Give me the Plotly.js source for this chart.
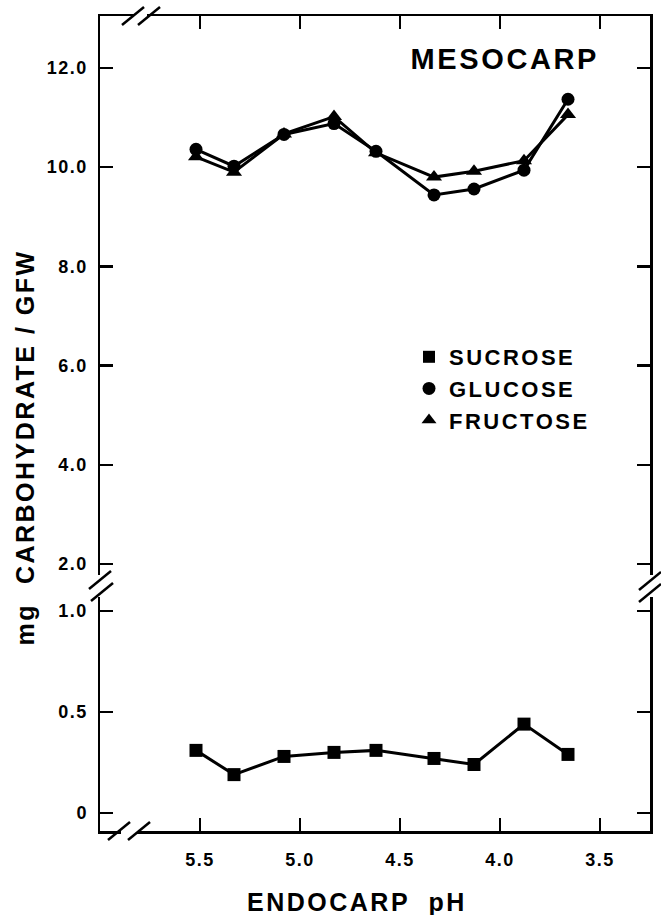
<!DOCTYPE html>
<html>
<head>
<meta charset="utf-8">
<script src="https://cdn.plot.ly/plotly-3.0.1.min.js"></script>
<style>
  html, body { margin: 0; padding: 0; background: #ffffff; }
  #chart { width: 661px; height: 915px; }
  .legendtext { letter-spacing: 2.5px; }
  .xtick text, .ytick text, .y2tick text { letter-spacing: 1.5px; }
</style>
</head>
<body>
<div id="chart"></div>
<script>
// ---- data ----
const endocarpPH = [5.52, 5.33, 5.08, 4.83, 4.62, 4.33, 4.13, 3.88, 3.66];
const sucrose    = [0.31, 0.19, 0.28, 0.30, 0.31, 0.27, 0.24, 0.44, 0.29];
const glucose    = [10.36, 10.02, 10.66, 10.88, 10.32, 9.44, 9.56, 9.94, 11.37];
const fructose   = [10.21, 9.90, 10.67, 11.02, 10.29, 9.80, 9.92, 10.13, 11.06];

const seriesNames = ['SUCROSE', 'GLUCOSE', 'FRUCTOSE'];
const xTickVals = [5.5, 5.0, 4.5, 4.0, 3.5];
const xTickText = ['5.5', '5.0', '4.5', '4.0', '3.5'];
const yUpperTickVals = [2, 4, 6, 8, 10, 12];
const yUpperTickText = ['2.0', '4.0', '6.0', '8.0', '10.0', '12.0'];
const yLowerTickVals = [0, 0.5, 1.0];
const yLowerTickText = ['0', '0.5', '1.0'];

// ---- styling ----
const FONT = 'Liberation Sans, Arial, Helvetica, sans-serif';
const tickFont = {family: FONT, size: 18, color: '#000', weight: 'bold'};
const lineStyle = {color: '#000', width: 3};

const traces = [
  {x: endocarpPH, y: sucrose, xaxis: 'x', yaxis: 'y', mode: 'lines+markers',
   line: lineStyle, marker: {symbol: 'square', size: 13, color: '#000'},
   showlegend: false, name: seriesNames[0]},
  {x: endocarpPH, y: glucose, xaxis: 'x2', yaxis: 'y2', mode: 'lines+markers',
   line: lineStyle, marker: {symbol: 'circle', size: 13, color: '#000'},
   showlegend: false, name: seriesNames[1]},
  {x: endocarpPH, y: fructose, xaxis: 'x2', yaxis: 'y2', mode: 'lines+markers',
   line: lineStyle, marker: {symbol: 'triangle-up', size: 14, color: '#000'},
   showlegend: false, name: seriesNames[2]},
  // legend-only entries (marker symbols without line)
  {x: [null], y: [null], xaxis: 'x2', yaxis: 'y2', mode: 'markers', name: seriesNames[0],
   marker: {symbol: 'square', size: 12, color: '#000'}},
  {x: [null], y: [null], xaxis: 'x2', yaxis: 'y2', mode: 'markers', name: seriesNames[1],
   marker: {symbol: 'circle', size: 13, color: '#000'}},
  {x: [null], y: [null], xaxis: 'x2', yaxis: 'y2', mode: 'markers', name: seriesNames[2],
   marker: {symbol: 'triangle-up', size: 13, color: '#000'}}
];

const axisCommon = {
  showline: true, linecolor: '#000', linewidth: 2.5,
  ticks: 'inside', ticklen: 13, tickwidth: 2.5, tickcolor: '#000',
  showgrid: false, zeroline: false, tickfont: tickFont
};

// pixel helpers for decorative break marks (paper coordinates)
const L = 100, R = 650, T = 16, B = 831;
const px = v => (v - L) / (R - L);
const py = v => (B - v) / (B - T);

function slash(cx, cy) {
  return {type: 'line', xref: 'paper', yref: 'paper', layer: 'above',
          x0: px(cx - 11), y0: py(cy + 9), x1: px(cx + 11), y1: py(cy - 9),
          line: {color: '#000', width: 2.5}};
}
function gap(x0, y0, x1, y1) {
  return {type: 'line', xref: 'paper', yref: 'paper', layer: 'above',
          x0: px(x0), y0: py(y0), x1: px(x1), y1: py(y1),
          line: {color: '#fff', width: 6}};
}

const shapes = [
  gap(135, T, 147, T), slash(133, T), slash(149, T),
  gap(121, B, 137, B), slash(119, B), slash(139, B),
  slash(100, 580), slash(102, 592),
  slash(650, 581), slash(650, 593)
];

const layout = {
  width: 661, height: 915,
  margin: {l: L, r: 661 - R, t: T, b: 915 - B, pad: 0},
  paper_bgcolor: '#fff', plot_bgcolor: '#fff',
  showlegend: true,
  legend: {x: px(409), y: py(336), xanchor: 'left', yanchor: 'top',
           bgcolor: 'rgba(0,0,0,0)', borderwidth: 0, tracegroupgap: 0,
           font: {family: FONT, size: 22, color: '#000', weight: 'bold'}},
  xaxis: Object.assign({}, axisCommon, {
    domain: [0, 1], range: [6.0, 3.25], anchor: 'y',
    tickvals: xTickVals, ticktext: xTickText, ticklabelstandoff: 11
  }),
  xaxis2: Object.assign({}, axisCommon, {
    domain: [0, 1], range: [6.0, 3.25], anchor: 'y2', side: 'top',
    tickvals: xTickVals, showticklabels: false
  }),
  yaxis: Object.assign({}, axisCommon, {
    domain: [0, py(597)], range: [-0.0891, 1.0693], anchor: 'x',
    mirror: 'ticks', tickvals: yLowerTickVals, ticktext: yLowerTickText,
    ticklabelstandoff: 6
  }),
  yaxis2: Object.assign({}, axisCommon, {
    domain: [py(575), 1], range: [1.778, 13.048], anchor: 'x2',
    mirror: 'ticks', tickvals: yUpperTickVals, ticktext: yUpperTickText,
    ticklabelstandoff: 6
  }),
  shapes: shapes,
  annotations: [
    {text: 'MESOCARP', xref: 'paper', yref: 'paper', x: px(505), y: py(59),
     xanchor: 'center', yanchor: 'middle', showarrow: false,
     font: {family: FONT, size: 29, color: '#000', weight: 'bold'}},
    {text: 'ENDOCARP  pH', xref: 'paper', yref: 'paper', x: px(357), y: py(902),
     xanchor: 'center', yanchor: 'middle', showarrow: false,
     font: {family: FONT, size: 25, color: '#000', weight: 'bold'}},
    {text: 'mg  CARBOHYDRATE / GFW', xref: 'paper', yref: 'paper', x: px(25), y: py(447),
     xanchor: 'center', yanchor: 'middle', showarrow: false, textangle: -90,
     font: {family: FONT, size: 25, color: '#000', weight: 'bold'}}
  ]
};

Plotly.newPlot('chart', traces, layout, {staticPlot: true, displayModeBar: false}).then(function () {
  // widen tracking of the annotation texts like the reference lettering
  const spacing = {'MESOCARP': '2.6px', 'ENDOCARP  pH': '2.5px', 'mg  CARBOHYDRATE / GFW': '2.5px'};
  document.querySelectorAll('.annotation-text').forEach(function (t) {
    const s = spacing[t.textContent];
    if (s) t.style.letterSpacing = s;
  });
});
</script>
</body>
</html>
